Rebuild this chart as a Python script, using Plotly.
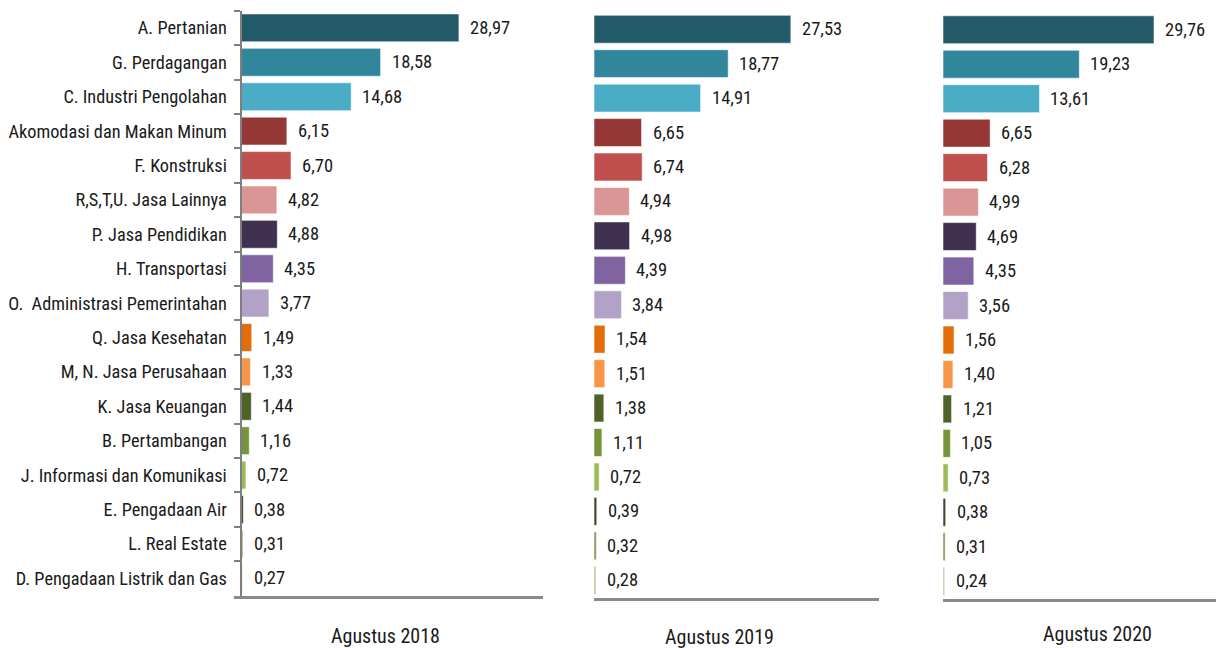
import plotly.graph_objects as go

categories = ["A. Pertanian", "G. Perdagangan", "C. Industri Pengolahan",
              "Akomodasi dan Makan Minum", "F. Konstruksi", "R,S,T,U. Jasa Lainnya",
              "P. Jasa Pendidikan", "H. Transportasi", "O.\u00a0 Administrasi Pemerintahan",
              "Q. Jasa Kesehatan", "M, N. Jasa Perusahaan", "K. Jasa Keuangan",
              "B. Pertambangan", "J. Informasi dan Komunikasi", "E. Pengadaan Air",
              "L. Real Estate", "D. Pengadaan Listrik dan Gas"]

v2018 = [28.97, 18.58, 14.68, 6.15, 6.70, 4.82, 4.88, 4.35, 3.77, 1.49, 1.33, 1.44, 1.16, 0.72, 0.38, 0.31, 0.27]
v2019 = [27.53, 18.77, 14.91, 6.65, 6.74, 4.94, 4.98, 4.39, 3.84, 1.54, 1.51, 1.38, 1.11, 0.72, 0.39, 0.32, 0.28]
v2020 = [29.76, 19.23, 13.61, 6.65, 6.28, 4.99, 4.69, 4.35, 3.56, 1.56, 1.40, 1.21, 1.05, 0.73, 0.38, 0.31, 0.24]

panel_titles = ["Agustus 2018", "Agustus 2019", "Agustus 2020"]

colors = ["#235a6a", "#31869b", "#4bacc6", "#953735", "#c0504d", "#da9694",
          "#403151", "#8064a2", "#b3a2c7", "#e46c0a", "#f79646", "#4f6228",
          "#77933c", "#9bbb59", "#494529", "#948a54", "#c4bd97"]

W, H = 1216, 648
FONT = "Liberation Sans Narrow, Arial Narrow, Roboto Condensed, DejaVu Sans Condensed, sans-serif"
TXT = "#1a1a1a"

def fmt(v):
    return f"{v:.2f}".replace(".", ",")

fig = go.Figure()

series = [v2018, v2019, v2020]
axes = [("x", "y"), ("x2", "y2"), ("x3", "y3")]
for vals, (xa, ya) in zip(series, axes):
    fig.add_trace(go.Bar(
        y=categories, x=vals, orientation="h",
        marker=dict(color=colors, line=dict(width=0.8, color="rgba(255,255,255,0.7)")),
        width=0.81, xaxis=xa, yaxis=ya, hoverinfo="skip"))
    for c, v in zip(categories, vals):
        fig.add_annotation(x=v, y=c, xref=xa, yref=ya, text=fmt(v),
                           showarrow=False, xanchor="left", yanchor="middle",
                           xshift=9, font=dict(family=FONT, size=18.5, color=TXT))

# panel geometry (pixels)
y1_axis_px = 240.5
s1, s2, s3 = 7.54, 7.15, 7.09

common_y = dict(categoryorder="array", categoryarray=categories,
                range=[16.5, -0.5], showgrid=False, zeroline=False, automargin=False)

fig.update_layout(
    width=W, height=H, margin=dict(l=0, r=0, t=0, b=0, autoexpand=False),
    paper_bgcolor="white", plot_bgcolor="white", showlegend=False,
    bargap=0.19,
    xaxis=dict(domain=[234 / W, 543 / W],
               range=[-(y1_axis_px - 234) / s1, (543 - y1_axis_px) / s1],
               showline=True, linecolor="#8a8a8a", linewidth=2.5,
               showticklabels=False, showgrid=False, zeroline=False, ticks="",
               anchor="y", automargin=False),
    yaxis=dict(domain=[1 - 595.5 / H, 1 - 10.7 / H], anchor="free",
               position=y1_axis_px / W,
               showline=True, linecolor="#7f7f7f", linewidth=2,
               ticks="outside", tickson="boundaries", ticklen=6, tickwidth=2,
               tickcolor="#7f7f7f", ticklabelstandoff=9,
               tickfont=dict(family=FONT, size=18.3, color=TXT), **common_y),
    xaxis2=dict(domain=[594 / W, 879 / W], range=[0, 285 / s2],
                showline=True, linecolor="#8a8a8a", linewidth=2.5,
                showticklabels=False, showgrid=False, zeroline=False, ticks="",
                anchor="y2", automargin=False),
    yaxis2=dict(domain=[1 - 597.5 / H, 1 - 12 / H], anchor="x2",
                showline=False, showticklabels=False, ticks="", **common_y),
    xaxis3=dict(domain=[943 / W, 1.0], range=[0, 273 / s3],
                showline=True, linecolor="#8a8a8a", linewidth=2.5,
                showticklabels=False, showgrid=False, zeroline=False, ticks="",
                anchor="y3", automargin=False),
    yaxis3=dict(domain=[1 - 598.5 / H, 1 - 12.5 / H], anchor="x3",
                showline=False, showticklabels=False, ticks="", **common_y),
)

title_pos = [(386, 636), (719, 637), (1097, 634)]
for t, (px, py) in zip(panel_titles, title_pos):
    fig.add_annotation(x=px / W, y=1 - py / H, xref="paper", yref="paper",
                       text=t, showarrow=False, xanchor="center", yanchor="middle",
                       font=dict(family=FONT, size=20, color=TXT))

fig.write_html("out.html", config={"displayModeBar": False},
               post_script="document.body.style.margin='0';document.body.style.overflow='hidden';")
